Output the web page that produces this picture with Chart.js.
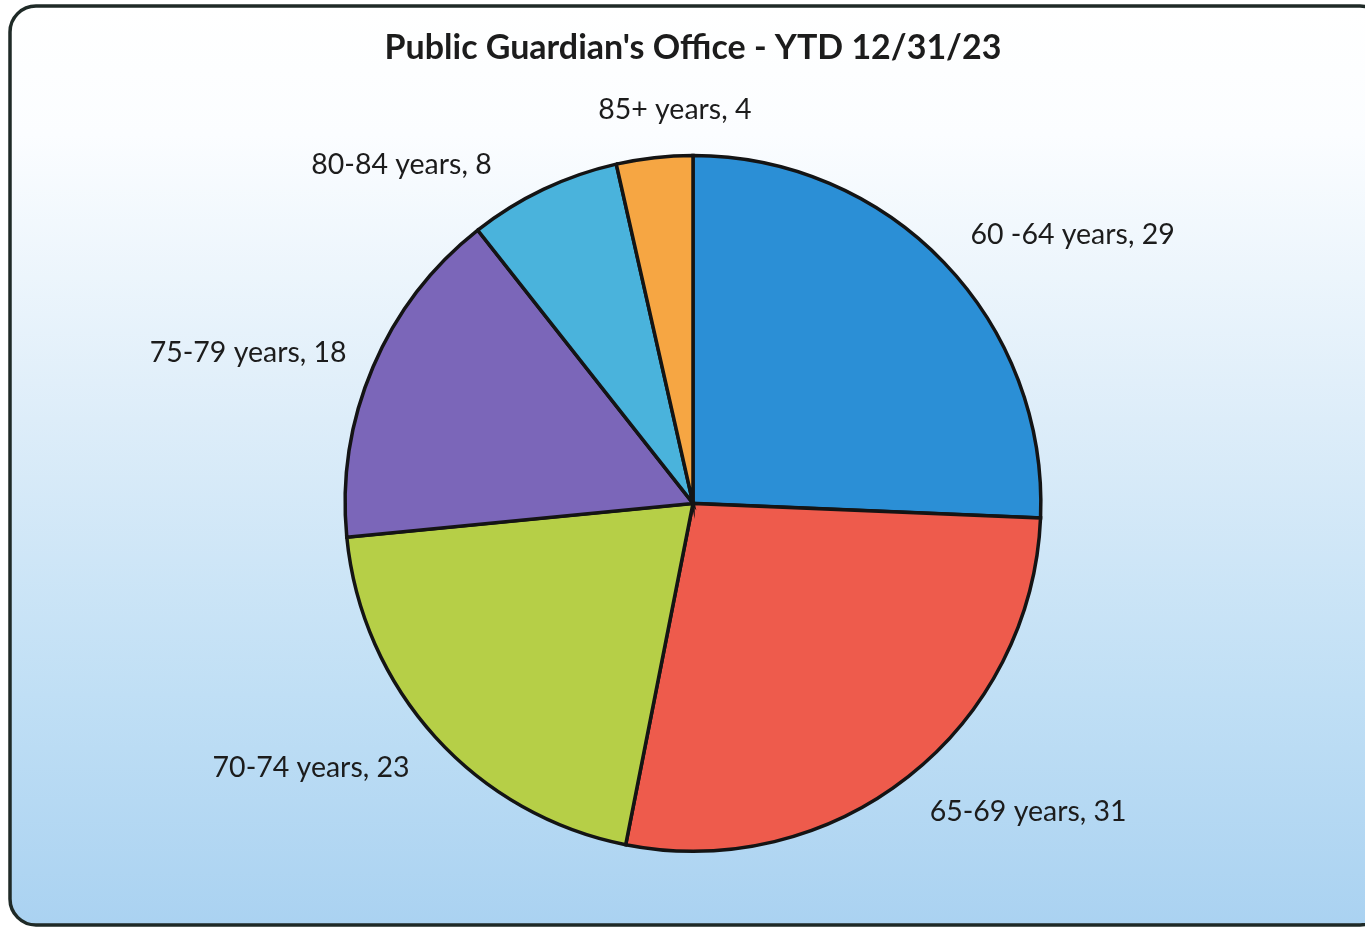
<!DOCTYPE html>
<html>
<head>
<meta charset="utf-8">
<title>Public Guardian's Office - YTD 12/31/23</title>
<script src="https://cdn.jsdelivr.net/npm/chart.js@4.4.1/dist/chart.umd.min.js"></script>
<style>
  html, body { margin: 0; padding: 0; background: #ffffff; }
  #wrap { width: 1365px; height: 928px; position: relative; }
</style>
</head>
<body>
<div id="wrap"><canvas id="pie" width="1365" height="928"></canvas></div>
<script>
// Age groups served, year to date
const categories = ['60 -64 years', '65-69 years', '70-74 years', '75-79 years', '80-84 years', '85+ years'];
const clientCounts = [29, 31, 23, 18, 8, 4];
const sliceColors = ['#2b8fd6', '#ee5b4c', '#b6cf47', '#7b66b9', '#4ab3dc', '#f6a643'];
const chartTitle = "Public Guardian's Office - YTD 12/31/23";

const FONT = 'Lato, "Open Sans", "DejaVu Sans", sans-serif';

// Rounded panel with a white-to-blue vertical gradient behind the chart
const panelBackground = {
  id: 'panelBackground',
  beforeDraw(chart) {
    const ctx = chart.ctx;
    const W = chart.width, H = chart.height;
    ctx.save();
    ctx.fillStyle = '#ffffff';
    ctx.fillRect(0, 0, W, H);
    const x0 = 10, y0 = 6, x1 = W + 21, y1 = H - 3, r = 26;
    const g = ctx.createLinearGradient(0, y0, 0, y1);
    g.addColorStop(0.0, '#ffffff');
    g.addColorStop(0.14, '#fbfdff');
    g.addColorStop(0.45, '#ddedf9');
    g.addColorStop(0.75, '#c0dff5');
    g.addColorStop(1.0, '#aad2f1');
    ctx.beginPath();
    ctx.moveTo(x0 + r, y0);
    ctx.lineTo(x1 - r, y0);
    ctx.arcTo(x1, y0, x1, y0 + r, r);
    ctx.lineTo(x1, y1 - r);
    ctx.arcTo(x1, y1, x1 - r, y1, r);
    ctx.lineTo(x0 + r, y1);
    ctx.arcTo(x0, y1, x0, y1 - r, r);
    ctx.lineTo(x0, y0 + r);
    ctx.arcTo(x0, y0, x0 + r, y0, r);
    ctx.closePath();
    ctx.fillStyle = g;
    ctx.fill();
    ctx.lineWidth = 3.5;
    ctx.strokeStyle = '#1f2a27';
    ctx.stroke();
    ctx.restore();
  }
};

// "Category, value" labels placed outside each slice
const outsideLabels = {
  id: 'outsideLabels',
  afterDatasetsDraw(chart, args, opts) {
    const ctx = chart.ctx;
    const meta = chart.getDatasetMeta(0);
    const ds = chart.data.datasets[0];
    ctx.save();
    ctx.font = opts.font;
    ctx.fillStyle = opts.color;
    ctx.textAlign = 'center';
    ctx.textBaseline = 'middle';
    meta.data.forEach((arc, i) => {
      const p = arc.getProps(['x', 'y', 'startAngle', 'endAngle', 'outerRadius'], true);
      const mid = (p.startAngle + p.endAngle) / 2;
      const dx = Math.cos(mid), dy = Math.sin(mid);
      const ax = p.x + dx * (p.outerRadius + opts.gap);
      const ay = p.y + dy * (p.outerRadius + opts.gap);
      const text = chart.data.labels[i] + ', ' + ds.data[i];
      const w = ctx.measureText(text).width;
      const h = opts.boxHeight;
      const hx = Math.abs(dx) > 0.3 ? Math.sign(dx) * w / 2 : (dx / 0.3) * w / 2;
      const vy = Math.abs(dy) > 0.6 ? Math.sign(dy) * h / 2 : dy * h / 2;
      const nudge = opts.nudge[i] || [0, 0];
      ctx.fillText(text, ax + hx + nudge[0], ay + vy + nudge[1]);
    });
    ctx.restore();
  }
};

new Chart(document.getElementById('pie'), {
  type: 'pie',
  data: {
    labels: categories,
    datasets: [{
      data: clientCounts,
      backgroundColor: sliceColors,
      borderColor: '#141414',
      borderWidth: 3.5,
      borderJoinStyle: 'miter'
    }]
  },
  options: {
    responsive: false,
    animation: false,
    rotation: 0,
    layout: { padding: { top: 0, bottom: 75, left: 21, right: 0 } },
    plugins: {
      legend: { display: false },
      tooltip: { enabled: false },
      title: {
        display: true,
        text: chartTitle,
        color: '#1c1c1c',
        font: { family: FONT, size: 34, weight: 'bold', lineHeight: 1.2 },
        padding: { top: 28, bottom: 85 }
      },
      outsideLabels: {
        font: '28.5px ' + FONT,
        color: '#1c1c1c',
        gap: 20,
        boxHeight: 30,
        nudge: [[12, 1], [9, 4], [-11, 2], [-8, 0], [-43, 8], [51, -13]]
      }
    }
  },
  plugins: [panelBackground, outsideLabels]
});
</script>
</body>
</html>
